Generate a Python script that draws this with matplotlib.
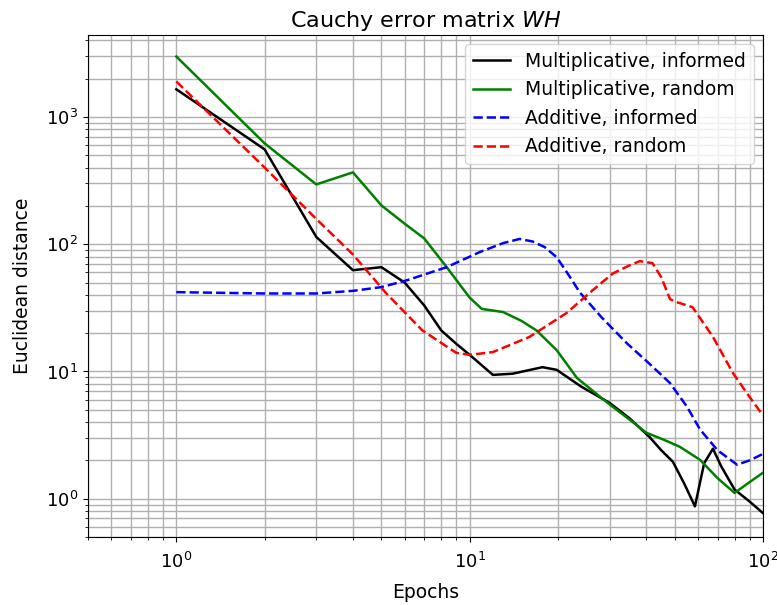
import matplotlib
matplotlib.use("Agg")
import matplotlib.pyplot as plt

# Multiplicative, informed
mi_x = [1, 2, 3, 4, 5, 6, 7, 8, 9, 10, 12, 14, 17.7, 19.8, 24, 30, 35, 41, 45, 49.3, 54, 58.6, 63, 67.5, 72, 80, 90, 100]
mi_y = [1650, 556, 114, 62.5, 66, 50, 33, 21, 16.5, 13.5, 9.4, 9.6, 10.8, 10.3, 7.6, 5.66, 4.3, 3.06, 2.4, 1.95, 1.3, 0.87, 1.9, 2.47, 1.8, 1.18, 0.95, 0.77]

# Multiplicative, random
mr_x = [1, 2, 3, 4, 5, 6, 7, 8.35, 10, 11, 13, 15, 16.9, 19.8, 23.2, 30, 35, 40, 46, 52, 61, 70, 80, 90, 100]
mr_y = [2985, 620, 295, 367, 202, 145, 111, 66, 38, 31, 29.3, 25, 21, 14.7, 8.9, 5.5, 4.2, 3.3, 2.9, 2.56, 2.02, 1.45, 1.11, 1.35, 1.6]

# Additive, informed
ai_x = [1, 2, 3, 4, 5, 6.1, 8.35, 10.8, 13, 14.8, 16.4, 18, 19.8, 22, 23.7, 28, 34.3, 41, 48.2, 55, 61, 70, 81.6, 90, 100]
ai_y = [42, 41, 41, 43, 46, 52, 66, 86.5, 102, 110, 105, 95, 79, 55, 42, 27, 16.7, 11.5, 8.1, 5.3, 3.5, 2.4, 1.85, 2.0, 2.25]

# Additive, random
ar_x = [1, 2, 3, 4, 5.2, 6.9, 9, 10, 12, 16, 21.4, 26.3, 30.8, 35, 38, 42, 45, 48.2, 50.9, 57.5, 67.5, 79, 90, 100]
ar_y = [1900, 400, 158, 83, 41, 21, 14, 13.5, 14.2, 18.7, 28.8, 43.6, 59, 68, 73.6, 71, 55, 37, 35, 32, 18.7, 9.7, 6.3, 4.5]

labels = ["Multiplicative, informed", "Multiplicative, random",
          "Additive, informed", "Additive, random"]

fig = plt.figure(figsize=(7.77, 6.05), dpi=100)
ax = fig.add_axes([0.1133, 0.1124, 0.8687, 0.8296])

ax.plot(mi_x, mi_y, color="black", linestyle="-", lw=1.8, label=labels[0])
ax.plot(mr_x, mr_y, color="green", linestyle="-", lw=1.8, label=labels[1])
ax.plot(ai_x, ai_y, color="blue", linestyle="--", lw=1.8, label=labels[2])
ax.plot(ar_x, ar_y, color="red", linestyle="--", lw=1.8, label=labels[3])

ax.set_xscale("log")
ax.set_yscale("log")
ax.set_xlim(0.5, 100)
ax.set_ylim(0.5, 4400)
ax.grid(True, which="both", color="#b0b0b0", lw=1.0)
ax.set_title("Cauchy error matrix $WH$", fontsize=16)
ax.set_xlabel("Epochs", fontsize=13.5, labelpad=8)
ax.set_ylabel("Euclidean distance", fontsize=13.5, labelpad=10)
ax.tick_params(labelsize=13)
ax.tick_params(axis="x", which="major", pad=7)

ax.legend(loc="upper right", fontsize=13.5)

fig.savefig("out.png", dpi=100)
